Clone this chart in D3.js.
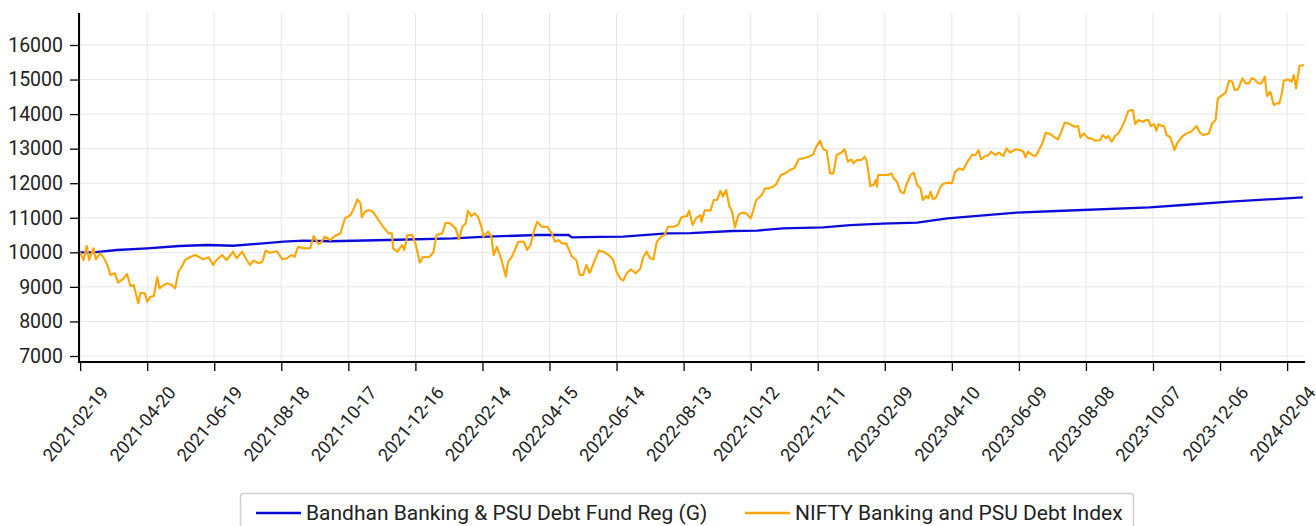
<!DOCTYPE html>
<html>
<head>
<meta charset="utf-8">
<script src="https://cdn.jsdelivr.net/npm/d3@7"></script>
<style>
  body { margin: 0; background: #fff; }
  svg { display: block; font-family: Roboto, "Noto Sans", sans-serif; }
</style>
</head>
<body>
<svg id="chart" width="1316" height="526"></svg>
<script>
// values, days counted from the start date
const startDate = '2021-02-19';

const fundDays = [0, 12, 33, 60, 89, 114, 137, 164, 182, 200, 224, 275, 334, 364, 409, 437, 440, 465, 486,
  525, 546, 584, 606, 629, 665, 689, 718, 749, 776, 838, 874, 957, 987, 1029, 1094];
const fundValues = [10000, 10000, 10067, 10116, 10183, 10212, 10190, 10260, 10308, 10336, 10320, 10356, 10405, 10453, 10501, 10501, 10434, 10450, 10453,
  10550, 10555, 10617, 10630, 10694, 10723, 10790, 10830, 10857, 10983, 11146, 11196, 11302, 11369, 11465, 11591];

const niftyDays = [0, 3, 6, 8, 12, 14, 18, 21, 25, 27, 31, 34, 39, 42, 45, 48, 52, 54, 58, 60, 63, 66, 69, 71, 75, 78, 82, 85, 88, 91,
  94, 98, 103, 107, 110, 115, 119, 122, 127, 131, 137, 140, 145, 149, 152, 155, 160, 163, 166, 170, 176, 181, 185, 189, 192, 195,
  200, 206, 209, 213, 215, 219, 224, 228, 233, 237, 242, 245, 248, 251, 252, 255, 258, 262, 267, 271, 276, 279, 280, 284, 288, 290,
  293, 297, 300, 304, 307, 312, 316, 319, 324, 327, 331, 336, 339, 342, 345, 347, 350, 353, 356, 359, 361, 365, 368, 370, 373, 377,
  381, 383, 386, 389, 392, 397, 400, 403, 406, 409, 413, 418, 422, 425, 428, 431, 435, 440, 444, 447, 450, 453, 456, 459, 464, 468,
  473, 477, 480, 483, 486, 489, 493, 497, 501, 504, 507, 510, 513, 516, 520, 523, 526, 531, 535, 538, 543, 545, 548, 551, 555, 556,
  559, 564, 567, 570, 573, 575, 578, 581, 583, 586, 589, 592, 596, 600, 602, 605, 610, 613, 616, 620, 623, 627, 631, 635, 639, 643,
  647, 652, 656, 658, 662, 665, 668, 671, 674, 677, 681, 684, 687, 690, 692, 695, 699, 702, 704, 707, 710, 712, 713, 714, 719, 723,
  726, 728, 731, 734, 737, 739, 743, 746, 749, 752, 754, 757, 759, 761, 763, 766, 770, 772, 776, 780, 783, 787, 790, 794, 798, 801,
  804, 806, 810, 813, 815, 819, 822, 826, 829, 832, 837, 841, 844, 846, 848, 852, 855, 858, 861, 864, 868, 872, 875, 878, 881, 884,
  887, 890, 893, 895, 898, 902, 905, 908, 913, 915, 918, 920, 923, 926, 929, 932, 935, 938, 942, 944, 947, 951, 954, 956, 958, 961,
  963, 965, 968, 970, 972, 975, 978, 979, 982, 986, 990, 994, 999, 1002, 1005, 1010, 1013, 1016, 1018, 1022, 1025, 1028, 1031, 1033,
  1036, 1040, 1043, 1046, 1048, 1051, 1054, 1057, 1060, 1062, 1065, 1068, 1071, 1073, 1075, 1077, 1081, 1084, 1086, 1088, 1091, 1095];
const niftyValues = [10000, 9778, 10183, 9778, 10116, 9797, 9970, 9855, 9585, 9344, 9392, 9121, 9248, 9373, 9025, 9054, 8524, 8832, 8813, 8571, 8716, 8736, 9277, 8958, 9054, 9103, 9054, 8958, 9438, 9583,
  9778, 9855, 9921, 9855, 9797, 9855, 9633, 9778, 9922, 9778, 10019, 9826, 10019, 9778, 9633, 9760, 9682, 9729, 10048, 9990, 10029, 9797, 9826, 9922, 9873, 10162,
  10116, 10116, 10472, 10240, 10260, 10452, 10356, 10472, 10550, 10984, 11080, 11273, 11534, 11418, 11013, 11176, 11225, 11176, 10935, 10742, 10550, 10550, 10116, 10019, 10212, 10067,
  10501, 10501, 10260, 9700, 9873, 9855, 9990, 10501, 10550, 10857, 10838, 10694, 10376, 10741, 10838, 11205, 11051, 11128, 11032, 10742, 10453, 10598, 10453, 9922, 10162, 9778,
  9295, 9729, 9855, 10067, 10308, 10308, 10067, 10212, 10598, 10887, 10742, 10742, 10550, 10308, 10356, 10260, 10260, 9873, 9778, 9344, 9344, 9633, 9400, 9650, 10050, 10019,
  9922, 9778, 9439, 9248, 9179, 9392, 9508, 9392, 9508, 9873, 10019, 9826, 9797, 10308, 10453, 10501, 10742, 10742, 10790, 11013, 11051, 11205, 10790, 10983, 11080, 10887,
  11225, 11205, 11514, 11514, 11783, 11609, 11803, 11320, 11225, 10723, 11080, 11146, 11128, 10983, 11176, 11514, 11659, 11852, 11852, 11900, 11977, 12238, 12286, 12382, 12431, 12692,
  12720, 12769, 12838, 13012, 13232, 12982, 12941, 12286, 12286, 12816, 12883, 12981, 12623, 12692, 12576, 12671, 12671, 12769, 12623, 11919, 11948, 12093, 11899, 12238, 12238, 12238,
  12286, 12141, 12045, 11755, 11707, 11919, 12238, 12305, 11948, 11852, 11514, 11630, 11563, 11755, 11534, 11592, 11900, 11977, 12016, 11997, 12335, 12431, 12382, 12623, 12816, 12816,
  12961, 12692, 12787, 12816, 12912, 12816, 12883, 12787, 13010, 12883, 12981, 12961, 12912, 12749, 12912, 12816, 12787, 12961, 13154, 13460, 13424, 13326, 13269, 13490, 13750, 13731,
  13684, 13635, 13654, 13326, 13442, 13298, 13298, 13230, 13250, 13395, 13298, 13366, 13201, 13366, 13442, 13616, 13829, 14098, 14118, 13713, 13829, 13780, 13829, 13829, 13654, 13713,
  13519, 13713, 13654, 13654, 13395, 13346, 13105, 12961, 13172, 13346, 13442, 13490, 13654, 13461, 13395, 13442, 13732, 13829, 14456, 14552, 14619, 14966, 14937, 14697,
  14716, 15034, 14890, 14890, 15034, 15005, 14890, 14890, 15082, 14524, 14648, 14263, 14311, 14311, 14552, 14966, 15005, 14937, 15130, 14745, 15391, 15420];

const xTickLabels = ['2021-02-19', '2021-04-20', '2021-06-19', '2021-08-18', '2021-10-17', '2021-12-16', '2022-02-14',
  '2022-04-15', '2022-06-14', '2022-08-13', '2022-10-12', '2022-12-11', '2023-02-09', '2023-04-10', '2023-06-09',
  '2023-08-08', '2023-10-07', '2023-12-06', '2024-02-04'];
const yTickValues = [7000, 8000, 9000, 10000, 11000, 12000, 13000, 14000, 15000, 16000];

const seriesNames = ['Bandhan Banking & PSU Debt Fund Reg (G)', 'NIFTY Banking and PSU Debt Index'];
const seriesColors = ['#0b0bdc', '#ffa500'];

const svg = d3.select('#chart');
const plotL = 79, plotR = 1305, plotT = 13, plotB = 362;

const parse = d3.utcParse('%Y-%m-%d');
const start = parse(startDate);

const x = d3.scaleUtc()
  .domain([parse('2021-02-18'), parse('2024-02-20')])
  .range([plotL, plotR]);
const y = d3.scaleLinear()
  .domain([6826, 16926])
  .range([plotB, plotT]);

// grid
svg.append('g')
  .selectAll('line')
  .data(xTickLabels)
  .join('line')
  .attr('x1', d => x(parse(d))).attr('x2', d => x(parse(d)))
  .attr('y1', plotT).attr('y2', plotB)
  .attr('stroke', '#e6e6e6').attr('stroke-width', 1);
svg.append('g')
  .selectAll('line')
  .data(yTickValues)
  .join('line')
  .attr('x1', plotL).attr('x2', plotR)
  .attr('y1', d => y(d)).attr('y2', d => y(d))
  .attr('stroke', '#e6e6e6').attr('stroke-width', 1);

// lines
const line = d3.line()
  .x(d => x(d3.utcDay.offset(start, d[0])))
  .y(d => y(d[1]));

const fund = fundDays.map((d, i) => [d, fundValues[i]]);
const nifty = niftyDays.map((d, i) => [d, niftyValues[i]]);

svg.append('path').datum(fund)
  .attr('d', line).attr('fill', 'none')
  .attr('stroke', seriesColors[0]).attr('stroke-width', 2.3);
svg.append('path').datum(nifty)
  .attr('d', line).attr('fill', 'none')
  .attr('stroke', seriesColors[1]).attr('stroke-width', 2.1)
  .attr('stroke-linejoin', 'round');

// y axis
const yAxis = svg.append('g')
  .attr('transform', `translate(${plotL},0)`)
  .call(d3.axisLeft(y).tickValues(yTickValues).tickSize(9).tickPadding(7).tickFormat(d3.format('d')));
yAxis.select('.domain').remove();
yAxis.selectAll('.tick line').attr('stroke', '#000').attr('stroke-width', 1.3);
yAxis.selectAll('.tick text').attr('font-size', 19.5).attr('fill', '#222').attr('font-family', 'Roboto');

// x axis
const xAxis = svg.append('g')
  .attr('transform', `translate(0,${plotB})`)
  .call(d3.axisBottom(x).tickValues(xTickLabels.map(parse)).tickSize(9).tickFormat(d3.utcFormat('%Y-%m-%d')));
xAxis.select('.domain').remove();
xAxis.selectAll('.tick line').attr('stroke', '#000').attr('stroke-width', 1.3);

xAxis.selectAll('.tick text')
  .attr('font-size', 18).attr('fill', '#222').attr('font-family', 'Roboto')
  .attr('x', 0).attr('y', 0).attr('dy', 0)
  .attr('text-anchor', 'end')
  .attr('transform', 'translate(29,31) rotate(-50)');

// axis lines
svg.append('line').attr('x1', plotL).attr('x2', plotL).attr('y1', plotT).attr('y2', plotB + 1)
  .attr('stroke', '#000').attr('stroke-width', 2);
svg.append('line').attr('x1', plotL - 1).attr('x2', plotR).attr('y1', plotB).attr('y2', plotB)
  .attr('stroke', '#000').attr('stroke-width', 2);

// legend
const lg = svg.append('g');
lg.append('rect').attr('x', 240.5).attr('y', 493.5).attr('width', 893).attr('height', 50)
  .attr('rx', 3).attr('fill', '#fff').attr('stroke', '#d0d0d0').attr('stroke-width', 1.5);
const items = [{ x: 256 }, { x: 745 }];
items.forEach((it, i) => {
  lg.append('line').attr('x1', it.x).attr('x2', it.x + 45).attr('y1', 513).attr('y2', 513)
    .attr('stroke', seriesColors[i]).attr('stroke-width', 2.5);
  lg.append('text').attr('x', it.x + 50).attr('y', 513).attr('dy', '0.35em')
    .attr('font-size', 21).attr('fill', '#222').attr('font-family', 'Roboto')
    .text(seriesNames[i]);
});
</script>
</body>
</html>
